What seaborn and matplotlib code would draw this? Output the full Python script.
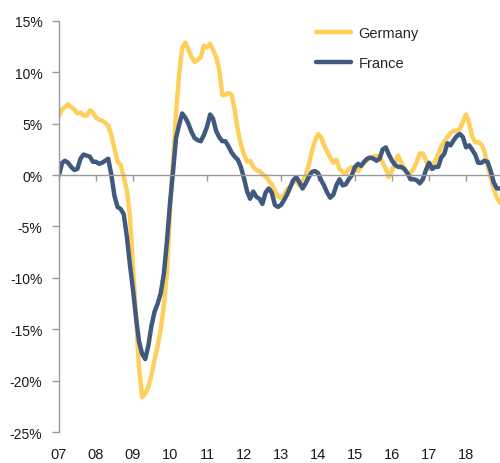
import numpy as np
import pandas as pd
import matplotlib
matplotlib.use("Agg")
import matplotlib.pyplot as plt
import matplotlib.dates as mdates
import seaborn as sns

# ---- data (monthly, Jan 2007 - Dec 2018, % y/y) ----
germany = [5.8, 6.4, 6.6, 6.9, 6.6, 6.4, 6.0, 6.1, 5.8, 5.8, 6.3, 6.1,
           5.6, 5.4, 5.3, 5.1, 4.8, 3.9, 2.6, 1.3, 1.0, -0.2, -1.5, -4.0,
           -9.0, -14.0, -18.8, -21.6, -21.3, -20.6, -19.5, -18.0, -16.6, -15.0, -12.7, -9.5,
           -3.5, 1.5, 6.0, 9.8, 12.4, 12.9, 12.2, 11.5, 11.0, 11.2, 11.5, 12.6,
           12.4, 12.8, 12.2, 11.5, 10.3, 7.8, 7.8, 8.0, 7.8, 6.4, 4.4, 3.0,
           2.0, 1.3, 1.4, 0.8, 0.5, 0.4, 0.1, -0.1, -0.5, -0.9, -1.5, -2.1,
           -2.2, -1.9, -1.4, -1.1, -0.7, -0.5, -1.0, -0.6, 0.0, 1.0, 2.3, 3.3,
           4.0, 3.7, 2.9, 2.3, 1.7, 1.2, 1.5, 0.6, 0.3, 0.1, 0.6, 0.8,
           0.6, 0.4, 0.8, 1.2, 1.5, 1.7, 1.8, 1.9, 1.8, 1.2, 0.6, -0.2,
           0.4, 1.3, 1.9, 1.2, 0.6, 0.2, 0.2, 0.6, 1.3, 2.1, 2.1, 1.5,
           0.6, 0.9, 1.4, 2.0, 2.8, 3.3, 3.7, 4.1, 4.3, 4.3, 4.5, 5.2,
           5.9, 5.0, 3.8, 3.2, 3.2, 3.0, 2.3, 1.0, -0.3, -1.3, -2.2, -2.7]

france = [0.0, 1.2, 1.4, 1.2, 0.8, 0.5, 0.6, 1.6, 2.0, 1.9, 1.8, 1.3,
          1.3, 1.1, 1.2, 1.4, 1.6, 0.0, -2.0, -3.1, -3.3, -3.8, -6.0, -8.7,
          -11.2, -14.0, -16.2, -17.4, -17.9, -16.6, -14.7, -13.3, -12.5, -11.5, -9.6, -6.5,
          -2.7, 0.5, 3.6, 4.9, 6.0, 5.6, 5.0, 4.2, 3.6, 3.4, 3.3, 3.9,
          4.7, 5.9, 5.5, 4.3, 3.7, 3.3, 3.3, 2.8, 2.2, 1.8, 1.5, 0.8,
          -0.3, -1.6, -2.3, -1.6, -2.1, -2.3, -2.8, -1.7, -1.3, -1.7, -2.9, -3.1,
          -2.9, -2.4, -1.9, -1.2, -0.5, -0.2, -0.7, -1.3, -0.8, -0.2, 0.3, 0.4,
          0.2, -0.5, -1.0, -1.7, -2.2, -1.9, -1.0, -0.4, -1.0, -0.9, -0.4, 0.0,
          0.8, 1.1, 0.9, 1.3, 1.6, 1.7, 1.6, 1.4, 1.6, 2.5, 2.7, 2.0,
          1.4, 1.0, 0.8, 0.8, 0.6, 0.2, -0.4, -0.4, -0.5, -0.8, -0.4, 0.5,
          1.2, 0.6, 0.8, 0.8, 1.7, 2.1, 3.1, 2.9, 3.4, 3.8, 4.0, 3.7,
          2.7, 2.9, 2.5, 2.0, 1.2, 1.2, 1.4, 1.3, 0.4, -0.7, -1.3, -1.3]

dates = pd.date_range("2007-01-01", periods=len(germany), freq="MS")
series_names = ["Germany", "France"]
colors = {"Germany": "#FFCF5C", "France": "#40597F"}
year_ticks = pd.date_range("2007-01-01", "2018-01-01", freq="YS")
year_labels = [f"{d.year % 100:02d}" for d in year_ticks]
y_ticks = [-25, -20, -15, -10, -5, 0, 5, 10, 15]

df = pd.concat([
    pd.DataFrame({"date": dates, "value": germany, "country": "Germany"}),
    pd.DataFrame({"date": dates, "value": france, "country": "France"}),
])

sns.set_theme(style="white")
plt.rcParams["font.family"] = ["Liberation Sans", "DejaVu Sans"]

fig = plt.figure(figsize=(5.0, 4.64), dpi=100)
ax = fig.add_axes([0.118, 0.0668, 0.882, 0.8858])

sns.lineplot(data=df, x="date", y="value", hue="country", hue_order=series_names,
             palette=colors, linewidth=3.2, ax=ax, legend=True)

ax.set_ylim(-25, 15)
ax.set_xlim(pd.Timestamp("2007-01-01"), pd.Timestamp("2018-12-02"))
ax.set_yticks(y_ticks)
ax.set_yticklabels([f"{v}%" for v in y_ticks])
ax.set_xlabel("")
ax.set_ylabel("")

gray = "#9A9A9A"
for s in ["top", "right"]:
    ax.spines[s].set_visible(False)
ax.spines["left"].set_color(gray)
ax.spines["left"].set_linewidth(1.0)
ax.spines["bottom"].set_position(("data", 0))
ax.spines["bottom"].set_color(gray)
ax.spines["bottom"].set_linewidth(1.0)

ax.tick_params(axis="y", which="both", left=True, length=5, width=1.0,
               color=gray, direction="out", pad=7, labelsize=10, labelcolor="#1A1A1A")
ax.set_xticks(year_ticks)
ax.tick_params(axis="x", which="both", bottom=True, length=4, width=1.0,
               color=gray, direction="out", labelbottom=False)

sec = ax.secondary_xaxis("bottom")
sec.set_xticks(mdates.date2num(year_ticks), labels=year_labels)
sec.spines["bottom"].set_visible(False)
sec.tick_params(axis="x", length=0, pad=11, labelsize=10.5, labelcolor="#1A1A1A")

handles, labels = ax.get_legend_handles_labels()
ax.legend(handles, labels, loc="upper left", bbox_to_anchor=(0.632, 0.942),
          bbox_transform=fig.transFigure, frameon=False, fontsize=10.5,
          handlelength=2.4, handletextpad=0.5, labelspacing=1.1,
          borderpad=0, borderaxespad=0)
for line in ax.get_legend().get_lines():
    line.set_linewidth(3.2)

fig.savefig("out.png", dpi=100)
